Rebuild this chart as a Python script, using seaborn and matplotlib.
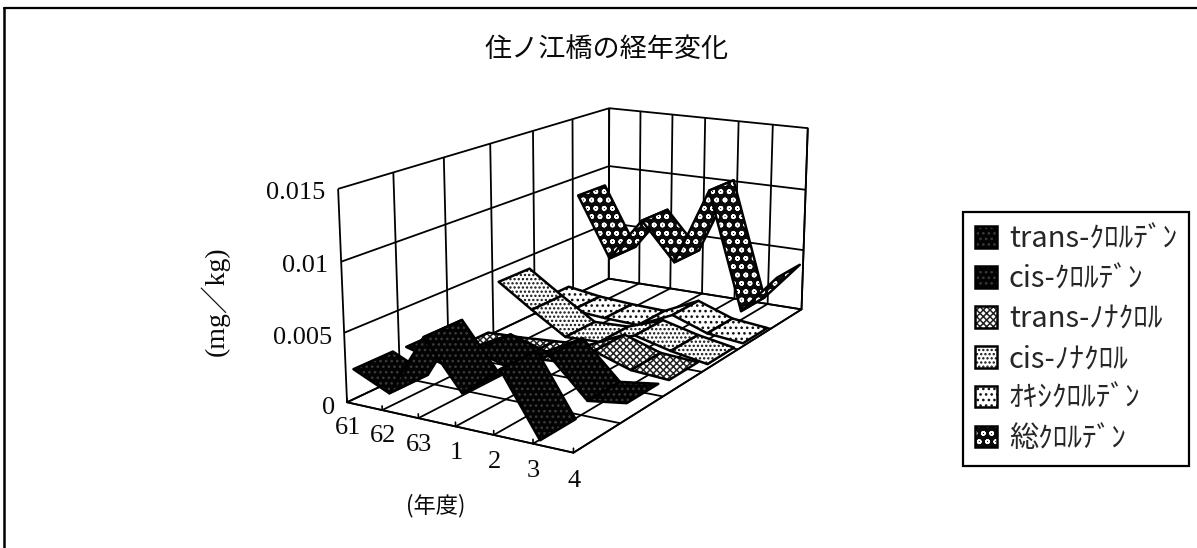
import matplotlib
matplotlib.use("Agg")
import matplotlib.pyplot as plt
from matplotlib.legend_handler import HandlerTuple
from matplotlib.lines import Line2D
from matplotlib.patches import Patch
from mpl_toolkits.mplot3d.art3d import Poly3DCollection
import numpy as np
import pandas as pd
import seaborn as sns

sns.set_theme(style="white")
plt.rcParams["hatch.linewidth"] = 1.1
JP = ["Noto Sans CJK JP", "DejaVu Sans"]
SERIF = ["Liberation Serif", "Noto Sans CJK JP"]

years = ["61", "62", "63", "1", "2", "3", "4"]
series = ["trans-ｸﾛﾙﾃﾞﾝ", "cis-ｸﾛﾙﾃﾞﾝ", "trans-ﾉﾅｸﾛﾙ", "cis-ﾉﾅｸﾛﾙ", "ｵｷｼｸﾛﾙﾃﾞﾝ", "総ｸﾛﾙﾃﾞﾝ"]
trans_chlordane = [0.0022, 0.0010, 0.0055, 0.0021, 0.0043, 0.0000, np.nan]
cis_chlordane = [0.0021, 0.0014, 0.0028, 0.0020, 0.0035, 0.0008, 0.0012]
trans_nonachlor = [0.0003, 0.0004, 0.0006, 0.0008, 0.0021, 0.0012, 0.0010]
cis_nonachlor = [0.0040, 0.0022, 0.0005, 0.0006, 0.0016, 0.0009, 0.0004]
oxychlordane = [0.0010, 0.0006, 0.0004, 0.0003, 0.0016, 0.0006, 0.0003]
total_chlordane = [0.0085, 0.0035, 0.0071, 0.0040, 0.0103, 0.0008, 0.0040]

table = pd.DataFrame(
    [trans_chlordane, cis_chlordane, trans_nonachlor, cis_nonachlor, oxychlordane, total_chlordane],
    index=series, columns=years,
)

faces = ["#030303", "#030303", "white", "white", "white", "#0a0a0a"]
hatches = ["...", "...", "xxxxx", "....", "...", "oo"]
hatch_inks = ["#3a3a3a", "#3a3a3a", "#222222", "#111111", "#111111", "white"]
CLEAR = (1, 1, 1, 0)

fig = plt.figure(figsize=(11.97, 5.48), dpi=100, facecolor="white")
ax = fig.add_axes([0.25375, 0.00443, 0.47210, 1.03120], projection="3d", computed_zorder=False)
ax.set_facecolor("none")
ax.set_proj_type("persp", focal_length=0.5322)
ax.view_init(elev=15.0323, azim=-59.5869)
ax.set_box_aspect((1.0959, 2.1751, 0.9057), zoom=1)

n_years, n_series = table.shape[1], table.shape[0]
ax.set_xlim(0, n_years - 1)
ax.set_ylim(0, n_series)
ax.set_zlim(0, 0.015)

# Ribbons are painted back to front so nearer series cover farther ones.
for row in range(n_series - 1, -1, -1):
    values = table.iloc[row].to_numpy()
    y0, y1 = row + 0.13, row + 0.87
    for i in range(n_years - 1):
        if np.isnan(values[i]) or np.isnan(values[i + 1]):
            continue
        quad = [(i, y0, values[i]), (i, y1, values[i]),
                (i + 1, y1, values[i + 1]), (i + 1, y0, values[i + 1])]
        z = 10 + (n_series - row) * 10 + i
        fill = Poly3DCollection([quad], facecolors=faces[row], edgecolors=hatch_inks[row],
                                hatch=hatches[row], linewidths=0, zorder=z)
        rim = Poly3DCollection([quad], facecolors=CLEAR, edgecolors="black",
                               linewidths=1.8, zorder=z + 0.5)
        ax.add_collection3d(fill)
        ax.add_collection3d(rim)

value_ticks = [0, 0.005, 0.01, 0.015]
value_labels = ["0", "0.005", "0.01", "0.015"]
ax.grid(True)
ax.set_xticks(range(n_years))
ax.set_yticks(range(n_series + 1))
ax.set_zticks(value_ticks)

for axis in (ax.xaxis, ax.yaxis, ax.zaxis):
    axis.set_pane_color((1, 1, 1, 0))
    axis.pane.set_edgecolor("black")
    axis.pane.set_linewidth(1.6)
    axis.line.set_color("black")
    axis._axinfo["grid"].update(color="black", linewidth=1.3, linestyle="-")
    axis._axinfo["tick"].update(inward_factor=0.0, outward_factor=0.0)
    axis.label.set_visible(False)
    axis.set_tick_params(label1On=False, label2On=False)
    for tick in axis.get_major_ticks():
        tick.label1.set_visible(False)
        tick.label2.set_visible(False)

# Axis labels sit next to the left wall and under the front floor edge.
for v, label in zip(value_ticks, value_labels):
    ax.text(0, -0.22, v, label, ha="right", va="center", family=SERIF, fontsize=19,
            color="#0a0a0a", zorder=200)
for i, label in enumerate(years):
    ax.text(i, 0, -0.0019, label, ha="center", va="center", family=SERIF, fontsize=19,
            color="#0a0a0a", zorder=200)
    ax.plot([i, i], [0, 0], [0, 0.0003], color="black", linewidth=1.2, zorder=5)

fig.text(0.5065, 0.91, "住ノ江橋の経年変化", family=JP, fontsize=19.5, ha="center", va="center", color="#0a0a0a")
fig.text(0.18, 0.451, "(mg／kg)", family=SERIF, fontsize=20, rotation=90, ha="center", va="center", color="#0a0a0a")
fig.text(0.364, 0.078, "(年度)", family=JP, fontsize=16, ha="center", va="center", color="#0a0a0a")

# The sheet border survives only along the top and left edges.
fig.add_artist(Line2D([0.0033, 1.0], [0.985, 0.985], transform=fig.transFigure, color="black", linewidth=1.6))
fig.add_artist(Line2D([0.0033, 0.0033], [0.0, 0.985], transform=fig.transFigure, color="black", linewidth=1.8))

handles = [(Patch(facecolor=f, edgecolor=k, hatch=h, linewidth=0),
            Patch(facecolor=CLEAR, edgecolor="black", linewidth=1.8))
           for f, h, k in zip(faces, hatches, hatch_inks)]
legend = fig.legend(handles, series, loc="upper left", bbox_to_anchor=(963 / 1197, 1 - 212 / 548),
                    handler_map={tuple: HandlerTuple(ndivide=1, pad=0)}, borderaxespad=0,
                    prop={"family": JP, "size": 21}, frameon=True, fancybox=False,
                    edgecolor="black", framealpha=1, labelspacing=0.34, handlelength=0.75,
                    handleheight=0.75, handletextpad=0.4, borderpad=0.42)
legend.get_frame().set_linewidth(1.6)

fig.savefig("out.png", dpi=100)
